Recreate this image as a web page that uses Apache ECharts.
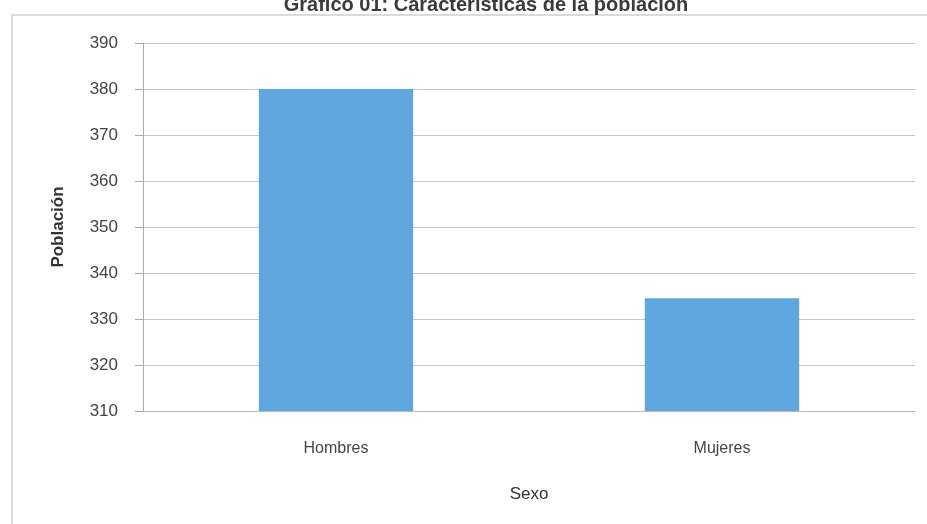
<!DOCTYPE html>
<html>
<head>
<meta charset="utf-8">
<script src="https://cdn.jsdelivr.net/npm/echarts@6/dist/echarts.min.js"></script>
<style>
  html, body { margin: 0; padding: 0; background: #fff; }
  #chart { width: 927px; height: 524px; }
</style>
</head>
<body>
<div id="chart"></div>
<script>
var categories = ['Hombres', 'Mujeres'];
var poblacion = [380, 334.5];
var yMin = 310, yMax = 390, yStep = 10;

var font = '"Liberation Sans Narrow", "Liberation Sans", Arial, sans-serif';
var chart = echarts.init(document.getElementById('chart'));

var option = {
  backgroundColor: '#fff',
  animation: false,
  title: {
    text: 'Gráfico 01: Características de la población',
    left: 481,
    textAlign: 'center',
    top: -10,
    textStyle: { fontFamily: 'Liberation Sans, Arial, sans-serif', fontSize: 20, fontWeight: 'bold', color: '#3a3a3a' }
  },
  graphic: [{
    type: 'polyline',
    shape: { points: [[12, 530], [12, 15], [930, 15]] },
    style: { stroke: '#d0d0d0', lineWidth: 1.5, fill: null }
  }],
  grid: { left: 143, right: 12, top: 43, bottom: 113 },
  xAxis: {
    type: 'category',
    data: categories,
    name: 'Sexo',
    nameLocation: 'middle',
    nameGap: 75,
    nameTextStyle: { fontFamily: font, fontSize: 17, color: '#333' },
    axisLine: { lineStyle: { color: '#bbb' } },
    axisTick: { show: false },
    axisLabel: { fontFamily: font, fontSize: 16, color: '#444', margin: 30 }
  },
  yAxis: {
    type: 'value',
    min: yMin,
    max: yMax,
    interval: yStep,
    name: 'Población',
    nameLocation: 'middle',
    nameGap: 76,
    nameTextStyle: { fontFamily: font, fontSize: 17, fontWeight: 'bold', color: '#333' },
    axisLine: { show: true, lineStyle: { color: '#aaa' } },
    axisTick: { show: true, length: 8, lineStyle: { color: '#aaa' } },
    axisLabel: { fontFamily: font, fontSize: 17, color: '#444', margin: 25 },
    splitLine: { lineStyle: { color: '#c4c4c4' } }
  },
  series: [{
    type: 'bar',
    data: poblacion,
    barWidth: '40%',
    itemStyle: { color: '#5fa8df' }
  }]
};
chart.setOption(option);
</script>
</body>
</html>
